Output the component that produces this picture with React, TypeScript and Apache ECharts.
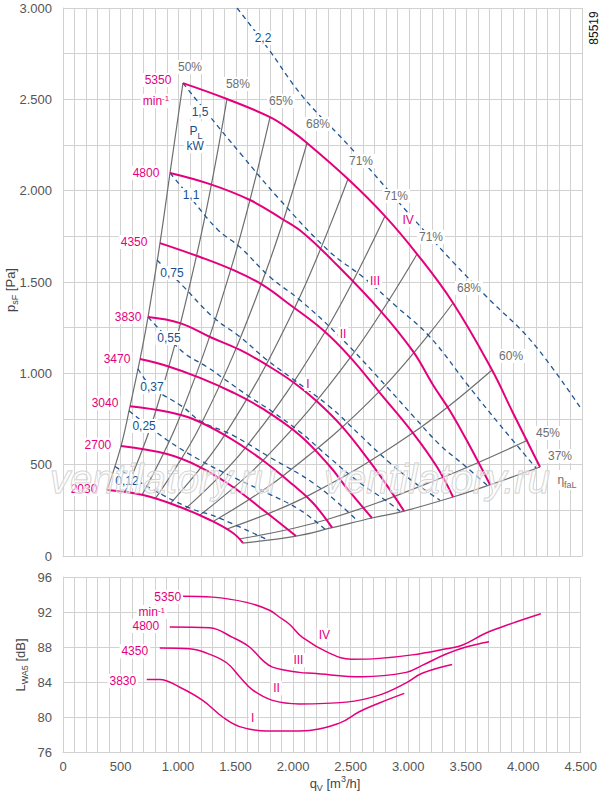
import React, { useEffect, useRef } from 'react';
import * as echarts from 'echarts';

const FONT = '"Liberation Sans", Arial, Helvetica, sans-serif';
const PINK = '#e4007c';
const GREY = '#6e6e6e';
const BLUE = '#1f5694';
const BLUE_TEXT = '#17508c';
const GRID = '#d2d2d2';
const TICK = '#555555';

// Drehzahlkennlinien p_sF [Pa] über q_V [m³/h]
const rpm5350 = [[1040, 2589], [1422, 2502], [1795, 2403], [1960, 2337], [2116, 2261], [2471, 2064], [2792, 1861], [3070, 1653], [3382, 1385], [3720, 1018], [3902, 783], [4136, 487]];
const rpm4800 = [[928, 2097], [1275, 2036], [1621, 1949], [1900, 1845], [2080, 1770], [2333, 1620], [2749, 1345], [3035, 1120], [3210, 935], [3360, 790], [3520, 610], [3703, 390]];
const rpm4350 = [[841, 1713], [1188, 1637], [1474, 1566], [1720, 1488], [1980, 1370], [2254, 1237], [2489, 1089], [2749, 892], [3035, 673], [3243, 487], [3382, 323]];
const rpm3830 = [[737, 1308], [1015, 1275], [1275, 1199], [1535, 1128], [1769, 1045], [2000, 950], [2198, 848], [2420, 708], [2662, 515], [2835, 362], [2957, 246]];
const rpm3470 = [[668, 1078], [902, 1040], [1188, 975], [1474, 895], [1734, 805], [2055, 660], [2315, 490], [2463, 370], [2679, 208]];
const rpm3040 = [[581, 820], [902, 790], [1127, 750], [1422, 655], [1708, 535], [1994, 390], [2168, 290], [2333, 155]];
const rpm2700 = [[503, 602], [902, 558], [1188, 487], [1474, 378], [1769, 235], [2020, 109]];
const rpm2030 = [[382, 361], [694, 334], [1015, 268], [1275, 197], [1474, 126], [1561, 71]];

// Wirkungsgradlinien eta_faL
const eff50 = [[382, 361], [503, 602], [581, 820], [668, 1078], [737, 1308], [841, 1713], [928, 2097], [1040, 2589]];
const eff58 = [[538, 350], [810, 805], [1160, 1650], [1422, 2502]];
const eff65 = [[685, 334], [1020, 772], [1460, 1580], [1795, 2403]];
const eff68 = [[798, 312], [1200, 725], [1720, 1490], [2116, 2261]];
const eff71a = [[928, 285], [1400, 660], [2010, 1360], [2471, 2064]];
const eff71b = [[1058, 257], [1585, 595], [2270, 1225], [2792, 1861]];
const eff71c = [[1188, 224], [1745, 530], [2495, 1090], [3070, 1653]];
const eff68b = [[1309, 192], [1920, 445], [2750, 905], [3382, 1385]];
const eff60 = [[1422, 148], [2110, 325], [3025, 670], [3720, 1018]];
const eff45 = [[1526, 93], [2290, 200], [3290, 430], [4032, 635]];
const eff37 = [[1561, 71], [2020, 109], [2333, 155], [2679, 208], [2957, 246], [3382, 323], [3703, 390], [4136, 487]];

// Leistungslinien P_L [kW]
const pow22 = [[1509, 3000], [1769, 2786], [2081, 2513], [2489, 2239], [2948, 1910], [3382, 1609], [3685, 1412], [4075, 1166], [4500, 799]];
const pow15 = [[1040, 2589], [1249, 2425], [1535, 2206], [1882, 1949], [2315, 1664], [2601, 1527], [2896, 1363], [3182, 1199], [3529, 920], [3789, 717], [4101, 482]];
const pow11 = [[928, 2097], [1101, 1965], [1344, 1785], [1535, 1691], [1795, 1527], [2055, 1401], [2402, 1199], [2809, 925], [3052, 755], [3269, 608], [3486, 493], [3680, 386]];
const pow075 = [[815, 1620], [1032, 1483], [1301, 1308], [1535, 1199], [1769, 1073], [1968, 980], [2315, 816], [2575, 662], [2835, 509], [3052, 400], [3269, 305]];
const pow055 = [[737, 1308], [1040, 1117], [1249, 1035], [1387, 974], [1621, 870], [1795, 799], [2055, 679], [2315, 536], [2575, 400], [2792, 307], [2922, 245]];
const pow037 = [[650, 1025], [772, 925], [1040, 816], [1188, 740], [1474, 660], [1769, 550], [2202, 385], [2558, 190]];
const pow025 = [[572, 795], [902, 635], [1188, 525], [1474, 432], [1769, 345], [2055, 252], [2272, 146]];
const pow012 = [[451, 490], [754, 372], [1101, 262], [1335, 213], [1769, 90]];

// Schallleistung L_WA5 [dB] über q_V
const lw5350 = [[1032, 93.8], [1301, 93.7], [1595, 93.1], [1795, 92.2], [1882, 91.4], [1968, 90.6], [2081, 89.1], [2315, 87.3], [2506, 86.6], [2749, 86.7], [3035, 87.1], [3330, 87.8], [3469, 88.2], [3677, 89.6], [3902, 90.7], [4153, 91.8]];
const lw4800 = [[928, 90.3], [1275, 90.2], [1474, 89.1], [1621, 88.0], [1734, 86.5], [1821, 85.7], [2055, 85.1], [2168, 85.0], [2601, 84.6], [2983, 85.1], [3122, 85.9], [3330, 87.2], [3503, 88.0], [3703, 88.6]];
const lw4350 = [[841, 87.9], [1101, 87.8], [1249, 87.3], [1422, 86.2], [1535, 84.6], [1647, 83.1], [1821, 81.9], [2055, 81.5], [2462, 81.7], [2749, 82.5], [2983, 83.9], [3122, 85.0], [3382, 86.0]];
const lw3830 = [[728, 84.3], [841, 84.3], [1015, 83.4], [1214, 81.9], [1387, 80.0], [1535, 78.9], [1769, 78.4], [2055, 78.4], [2402, 79.3], [2575, 80.6], [2749, 81.6], [2966, 82.7]];

// Beschriftungen [Text, q_V, Wert]
const rpmTopLabels: Array<[string, number, number]> = [
    ['5350', 824, 2606], ['min{sup|-1}', 806, 2491], ['4800', 720, 2097], ['4350', 616, 1719], ['3830', 564, 1308],
    ['3470', 468, 1078], ['3040', 364, 838], ['2700', 303, 608], ['2030', 182, 367],
];
const romanTopLabels: Array<[string, number, number]> = [['IV', 2992, 1839], ['III', 2705, 1505], ['II', 2428, 1215], ['I', 2124, 942]];
const effLabels: Array<[string, number, number]> = [
    ['50%', 1101, 2677], ['58%', 1517, 2584], ['65%', 1890, 2491], ['68%', 2211, 2365], ['71%', 2584, 2162], ['71%', 2887, 1971],
    ['71%', 3191, 1746], ['68%', 3520, 1467], ['60%', 3885, 1095], ['45%', 4205, 673], ['37%', 4309, 547], ['η{sub|faL}', 4370, 416],
];
const powerLabels: Array<[string, number, number]> = [
    ['2,2', 1734, 2836], ['1,5', 1188, 2430], ['P{sub|L}', 1153, 2326], ['kW', 1145, 2244], ['1,1', 1110, 1976], ['0,75', 945, 1549],
    ['0,55', 919, 1193], ['0,37', 772, 925], ['0,25', 703, 712], ['0,12', 555, 411],
];
const rpmLwLabels: Array<[string, number, number]> = [['5350', 910, 93.7], ['min{sup|-1}', 772, 92.0], ['4800', 720, 90.4], ['4350', 624, 87.5], ['3830', 520, 84.1]];
const romanLwLabels: Array<[string, number, number]> = [['IV', 2272, 89.4], ['III', 2046, 86.5], ['II', 1856, 83.3], ['I', 1648, 79.9]];

const fmtThousands = (v: number): string => {
    if (v < 1000) return String(v);
    return `${Math.floor(v / 1000)}.${String(v % 1000).padStart(3, '0')}`;
};

const line = (data: number[][], color: string, width: number, grid: number, z: number, dashed = false) => ({
    type: 'line',
    data,
    xAxisIndex: grid,
    yAxisIndex: grid,
    smooth: 0.4,
    showSymbol: false,
    silent: true,
    z,
    lineStyle: { color, width, type: dashed ? [5, 4] : 'solid' },
});

const richFor = (fill: string) => ({
    sub: { fontSize: 9, fill, fontFamily: FONT, verticalAlign: 'bottom', lineHeight: 18 },
    sup: { fontSize: 8, fill, fontFamily: FONT, verticalAlign: 'top', lineHeight: 10 },
});

const valueX = (grid: number, showLabels: boolean) => ({
    type: 'value',
    gridIndex: grid,
    min: 0,
    max: 4500,
    interval: 100,
    axisTick: { show: false },
    axisLine: { show: true, lineStyle: { color: GRID } },
    splitLine: { show: true, lineStyle: { color: GRID, width: 1 } },
    axisLabel: {
        show: showLabels,
        color: TICK,
        fontSize: 13,
        fontFamily: FONT,
        margin: 8,
        formatter: (v: number) => (v % 500 === 0 ? fmtThousands(v) : ''),
    },
});

const App: React.FC = () => {
    const chartRef = useRef<HTMLDivElement>(null);

    useEffect(() => {
        if (!chartRef.current) return;
        const chart = echarts.init(chartRef.current, undefined, { renderer: 'svg' });

        chart.setOption({
            animation: false,
            backgroundColor: '#fff',
            grid: [
                { left: 63, top: 8, width: 519, height: 548 },
                { left: 63, top: 577, width: 519, height: 175 },
            ],
            xAxis: [valueX(0, false), valueX(1, true)],
            yAxis: [
                {
                    type: 'value',
                    gridIndex: 0,
                    min: 0,
                    max: 3000,
                    interval: 250,
                    axisTick: { show: false },
                    axisLine: { show: true, lineStyle: { color: GRID } },
                    splitLine: { show: true, lineStyle: { color: GRID, width: 1 } },
                    axisLabel: {
                        color: TICK,
                        fontSize: 13,
                        fontFamily: FONT,
                        margin: 11,
                        formatter: (v: number) => (v % 500 === 0 ? fmtThousands(v) : ''),
                    },
                },
                {
                    type: 'value',
                    gridIndex: 1,
                    min: 76,
                    max: 96,
                    interval: 4,
                    axisTick: { show: false },
                    axisLine: { show: true, lineStyle: { color: GRID } },
                    splitLine: { show: true, lineStyle: { color: GRID, width: 1 } },
                    axisLabel: { color: TICK, fontSize: 13, fontFamily: FONT, margin: 11 },
                },
            ],
            series: [
                ...[eff50, eff58, eff65, eff68, eff71a, eff71b, eff71c, eff68b, eff60, eff45, eff37].map(d => line(d, GREY, 1.2, 0, 2)),
                ...[pow22, pow15, pow11, pow075, pow055, pow037, pow025, pow012].map(d => line(d, BLUE, 1.3, 0, 3, true)),
                ...[rpm5350, rpm4800, rpm4350, rpm3830, rpm3470, rpm3040, rpm2700, rpm2030].map(d => line(d, PINK, 2, 0, 4)),
                ...[lw5350, lw4800, lw4350, lw3830].map(d => line(d, PINK, 1.5, 1, 4)),
            ],
        });

        // Beschriftungen an Datenkoordinaten, mit weißem Hintergrund
        const place = (items: Array<[string, number, number]>, fill: string, grid: number, size: number) =>
            items.map(([text, x, y]) => {
                const [px, py] = chart.convertToPixel({ gridIndex: grid }, [x, y]) as number[];
                return {
                    type: 'text',
                    x: px,
                    y: py,
                    z: 10,
                    silent: true,
                    style: {
                        text,
                        fill,
                        font: `${size}px ${FONT}`,
                        align: 'center',
                        verticalAlign: 'middle',
                        backgroundColor: '#fff',
                        padding: [1, 2],
                        rich: richFor(fill),
                    },
                };
            });

        const axisTitle = (text: string, x: number, y: number, rotation: number) => ({
            type: 'text',
            x,
            y,
            rotation,
            silent: true,
            style: {
                text,
                fill: '#444',
                font: `13px ${FONT}`,
                align: 'center',
                verticalAlign: 'middle',
                rich: {
                    s: { fontSize: 9, fill: '#444', fontFamily: FONT, verticalAlign: 'bottom', lineHeight: 18 },
                    p: { fontSize: 9, fill: '#444', fontFamily: FONT, verticalAlign: 'top', lineHeight: 10 },
                },
            },
        });

        const watermark = (x: number) => ({
            type: 'text',
            x,
            y: 479,
            silent: true,
            z: 20,
            style: {
                text: 'ventilatory.ru',
                font: `italic 40px ${FONT}`,
                fill: 'rgba(255,255,255,0.45)',
                stroke: '#c9c9c9',
                lineWidth: 1,
                align: 'center',
                verticalAlign: 'middle',
            },
        });

        chart.setOption({
            graphic: [
                ...place(effLabels, GREY, 0, 12),
                ...place(powerLabels, BLUE_TEXT, 0, 12),
                ...place(rpmTopLabels, PINK, 0, 12),
                ...place(romanTopLabels, PINK, 0, 12),
                ...place(rpmLwLabels, PINK, 1, 12),
                ...place(romanLwLabels, PINK, 1, 12),
                axisTitle('p{s|sF} [Pa]', 10, 290, Math.PI / 2),
                axisTitle('L{s|WA5} [dB]', 20, 665, Math.PI / 2),
                axisTitle('q{s|V} [m{p|3}/h]', 335, 783, 0),
                {
                    type: 'text',
                    x: 594,
                    y: 28,
                    rotation: Math.PI / 2,
                    silent: true,
                    style: { text: '85519', fill: '#111', font: `12px ${FONT}`, align: 'center', verticalAlign: 'middle' },
                },
                watermark(163),
                watermark(437),
            ],
        });

        return () => chart.dispose();
    }, []);

    return (
        <div
            ref={chartRef}
            style={{ position: 'absolute', left: 0, top: 0, width: 600, height: 796, background: '#fff' }}
        />
    );
};

export default App;
